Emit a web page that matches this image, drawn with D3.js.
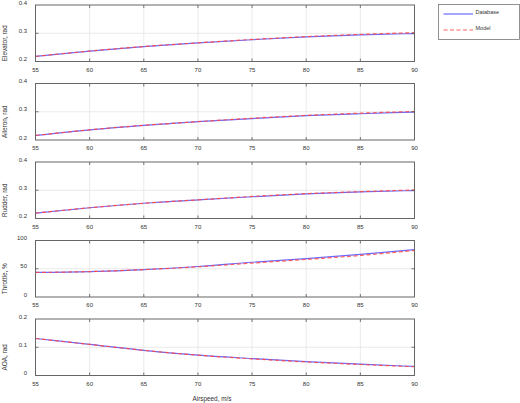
<!DOCTYPE html>
<html>
<head>
<meta charset="utf-8">
<script src="https://cdn.jsdelivr.net/npm/d3@7"></script>
<style>
  body { margin: 0; background: #fff; }
  text { font-family: "Liberation Sans", Arial, sans-serif; fill: #333; }
</style>
</head>
<body>
<div id="viz"></div>
<script>
// Data.
var airspeed = [55, 60, 65, 70, 75, 80, 85, 90];
var xTicks = [55, 60, 65, 70, 75, 80, 85, 90];

var elevatorDb    = [0.218, 0.237, 0.253, 0.266, 0.277, 0.287, 0.294, 0.299];
var elevatorModel = [0.218, 0.237, 0.253, 0.266, 0.278, 0.288, 0.296, 0.302];
var aileronDb     = [0.216, 0.236, 0.252, 0.265, 0.276, 0.286, 0.293, 0.299];
var aileronModel  = [0.216, 0.236, 0.252, 0.265, 0.277, 0.287, 0.295, 0.301];
var rudderDb      = [0.219, 0.238, 0.254, 0.266, 0.277, 0.287, 0.294, 0.299];
var rudderModel   = [0.219, 0.238, 0.254, 0.266, 0.278, 0.288, 0.295, 0.301];
var throttleDb    = [43.5, 45, 48.5, 54, 61.5, 68, 75.5, 84];
var throttleModel = [43.5, 45, 48.5, 53.5, 60, 66.5, 73.5, 82.5];
var aoaDb         = [0.131, 0.110, 0.089, 0.072, 0.060, 0.049, 0.040, 0.032];
var aoaModel      = [0.131, 0.110, 0.089, 0.072, 0.059, 0.048, 0.039, 0.031];

var panelLabels = ["Elevator, rad", "Aileron, rad", "Rudder, rad", "Throttle, %", "AOA, rad"];
var yDomains = [[0.2, 0.4], [0.2, 0.4], [0.2, 0.4], [0, 100], [0, 0.2]];
var yTicks = [[0.2, 0.3, 0.4], [0.2, 0.3, 0.4], [0.2, 0.3, 0.4], [0, 50, 100], [0, 0.1, 0.2]];
var dbSeries = [elevatorDb, aileronDb, rudderDb, throttleDb, aoaDb];
var modelSeries = [elevatorModel, aileronModel, rudderModel, throttleModel, aoaModel];
var legendLabels = ["Database", "Model"];

// Layout.
var width = 520, height = 403;
var left = 35.5, right = 414.5;
var top0 = 5, panelH = 56.5, step = 78.5;
var blue = "rgba(70,70,255,0.8)", red = "rgba(255,70,70,0.85)";

var svg = d3.select("#viz")
	.append("svg")
	.attr("width", width)
	.attr("height", height);

var x = d3.scaleLinear().domain([55, 90]).range([left, right]);

for (var i = 0; i < 5; ++i)
{
	var t = top0 + i * step, b = t + panelH;
	var y = d3.scaleLinear().domain(yDomains[i]).range([b, t]);
	var g = svg.append("g");

	// Grid.
	g.selectAll(".vg").data(xTicks.slice(1, -1)).enter().append("line")
		.attr("x1", d => x(d)).attr("x2", d => x(d))
		.attr("y1", t).attr("y2", b)
		.style("stroke", "#e4e4e4").style("stroke-width", 0.8);
	g.selectAll(".hg").data(yTicks[i].slice(1, -1)).enter().append("line")
		.attr("x1", left).attr("x2", right)
		.attr("y1", d => y(d)).attr("y2", d => y(d))
		.style("stroke", "#e4e4e4").style("stroke-width", 0.8);

	// Curves.
	var line = d3.line()
		.x((d, k) => x(airspeed[k]))
		.y(d => y(d))
		.curve(d3.curveMonotoneX);
	g.append("path").datum(dbSeries[i])
		.attr("d", line)
		.style("fill", "none").style("stroke", blue).style("stroke-width", 1.2);
	g.append("path").datum(modelSeries[i])
		.attr("d", line)
		.style("fill", "none").style("stroke", red).style("stroke-width", 1.2)
		.style("stroke-dasharray", "4,2.5");

	// Tick marks inside box.
	g.selectAll(".xt").data(xTicks.slice(1, -1)).enter().append("path")
		.attr("d", d => "M" + x(d) + "," + b + "v-3M" + x(d) + "," + t + "v3")
		.style("stroke", "#555").style("stroke-width", 0.8);
	g.selectAll(".yt").data(yTicks[i].slice(1, -1)).enter().append("path")
		.attr("d", d => "M" + left + "," + y(d) + "h3M" + right + "," + y(d) + "h-3")
		.style("stroke", "#555").style("stroke-width", 0.8);

	// Box.
	g.append("rect")
		.attr("x", left).attr("y", t)
		.attr("width", right - left).attr("height", panelH)
		.style("fill", "none").style("stroke", "#666").style("stroke-width", 1);

	// Tick labels.
	g.selectAll(".xl").data(xTicks).enter().append("text")
		.attr("x", d => x(d)).attr("y", b + 10)
		.attr("text-anchor", "middle")
		.style("font-size", "6px")
		.text(d => d);
	g.selectAll(".yl").data(yTicks[i]).enter().append("text")
		.attr("x", 27).attr("y", d => y(d) - 0.5)
		.attr("text-anchor", "end")
		.style("font-size", "6px")
		.text(d => d);

	// Y label.
	g.append("text")
		.attr("transform", "translate(7," + ((t + b) / 2 + 10) + ") rotate(-90)")
		.attr("text-anchor", "middle")
		.style("font-size", "6.4px")
		.text(panelLabels[i]);
}

// X label.
svg.append("text")
	.attr("x", 212).attr("y", 401)
	.attr("text-anchor", "middle")
	.style("font-size", "6.4px")
	.text("Airspeed, m/s");

// Legend.
var lg = svg.append("g");
lg.append("rect")
	.attr("x", 438.5).attr("y", 4.5).attr("width", 81).attr("height", 35)
	.style("fill", "#fff").style("stroke", "#777").style("stroke-width", 0.8);
[blue, red].forEach(function (c, k) {
	var ly = 14 + k * 16;
	lg.append("line")
		.attr("x1", 443.5).attr("x2", 473).attr("y1", ly).attr("y2", ly)
		.style("stroke", c).style("stroke-width", 1.2)
		.style("stroke-dasharray", k ? "4,2.5" : null);
	lg.append("text")
		.attr("x", 475.5).attr("y", ly - 0.5)
		.style("font-size", "5.5px")
		.text(legendLabels[k]);
});
</script>
</body>
</html>
